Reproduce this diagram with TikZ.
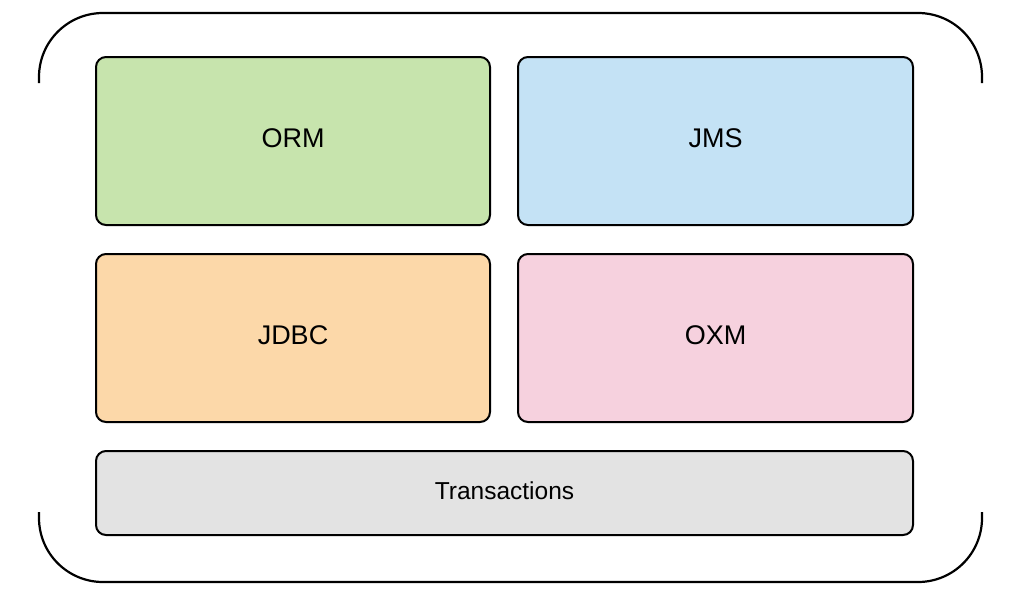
\documentclass[tikz,border=0pt]{standalone}
\usepackage{fontspec}
\setmainfont{Liberation Sans}
\definecolor{cgreen}{HTML}{C7E4AD}
\definecolor{cblue}{HTML}{C4E2F5}
\definecolor{corange}{HTML}{FCD8A9}
\definecolor{cpink}{HTML}{F6D1DE}
\definecolor{cgray}{HTML}{E3E3E3}
\tikzset{
  modbox/.style={draw=black, line width=2pt, rounded corners=10pt, inner sep=0pt, font=\fontsize{27}{32}\selectfont},
  frame/.style={draw=black, line width=2.2pt}
}
\newcommand{\lift}[2][5.5pt]{\raisebox{#1}{#2}}
\begin{document}
\begin{tikzpicture}[x=1pt,y=-1pt]
\useasboundingbox (0,0) rectangle (1024,603);
\node[modbox, fill=cgreen, minimum width=394pt, minimum height=168pt] (orm) at (293,141) {\lift{ORM}};
\node[modbox, fill=cblue, minimum width=395pt, minimum height=168pt] (jms) at (715.5,141) {\lift{JMS}};
\node[modbox, fill=corange, minimum width=394pt, minimum height=168pt] (jdbc) at (293,338) {\lift{JDBC}};
\node[modbox, fill=cpink, minimum width=395pt, minimum height=168pt] (oxm) at (715.5,338) {\lift{OXM}};
\node[modbox, fill=cgray, minimum width=817pt, minimum height=84pt, font=\fontsize{24.5}{29}\selectfont] (tx) at (504.5,493) {\lift[5pt]{Transactions}};
\draw[frame] (39,83) -- (39,77) arc[start angle=180, end angle=270, radius=64] -- (918,13) arc[start angle=270, end angle=360, radius=64] -- (982,83);
\draw[frame] (39,512) -- (39,518) arc[start angle=180, end angle=90, radius=64] -- (918,582) arc[start angle=90, end angle=0, radius=64] -- (982,512);
\end{tikzpicture}
\end{document}
